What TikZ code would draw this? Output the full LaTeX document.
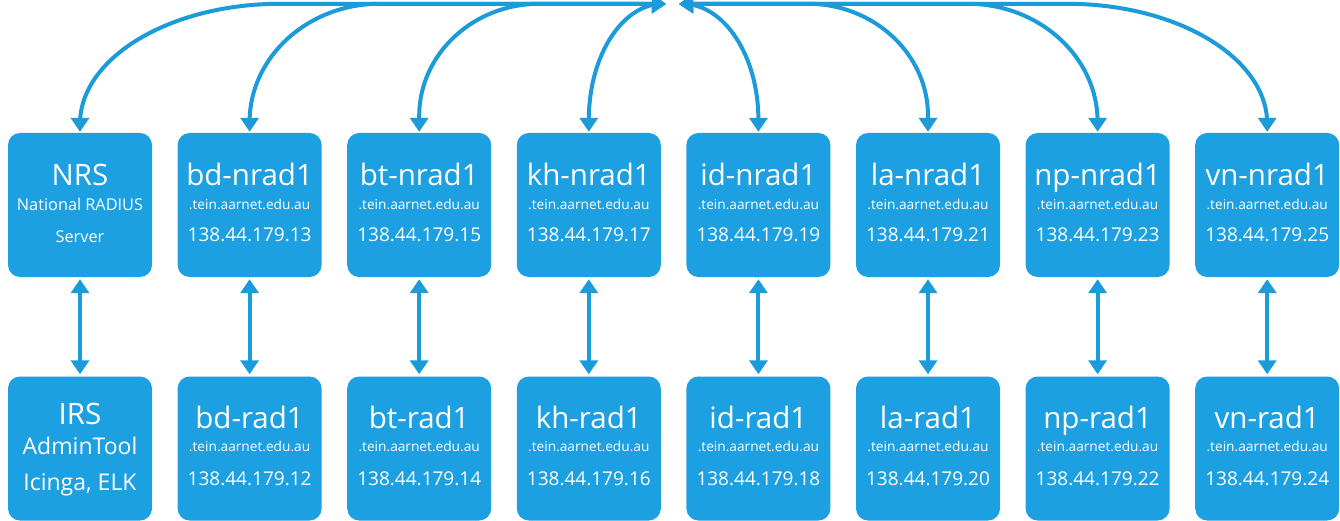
\documentclass[tikz,border=0pt]{standalone}
\usepackage{fontspec}
\setmainfont{Open Sans}
\usetikzlibrary{arrows.meta,calc}
\definecolor{boxblue}{RGB}{29,160,225}
\definecolor{arrblue}{RGB}{27,155,218}
\begin{document}
\begin{tikzpicture}[x=1pt,y=-1pt,
 srv/.style={fill=boxblue, rounded corners=12pt, minimum width=144pt, minimum height=144pt, inner sep=0pt},
 link/.style={draw=arrblue, line width=4pt, {Triangle[width=18pt,length=14pt]}-{Triangle[width=18pt,length=14pt]}},
 ttl/.style={text=white, anchor=base, inner sep=0pt, font=\fontsize{29.5}{32}\selectfont},
 sub/.style={text=white, anchor=base, inner sep=0pt, font=\fontsize{16.3}{18}\selectfont},
 mid/.style={text=white, anchor=base, inner sep=0pt, font=\fontsize{23}{26}\selectfont},
 dom/.style={text=white, anchor=base, inner sep=0pt, font=\fontsize{13.7}{15}\selectfont},
 ip/.style={text=white, anchor=base, inner sep=0pt, font=\fontsize{19}{21}\selectfont}]
\useasboundingbox (0,0) rectangle (1340,521);

% boxes
\foreach \i/\x in {1/80,2/249.6,3/419.2,4/588.8,5/758.4,6/928,7/1097.6,8/1267.2} {
  \node[srv] (t\i) at (\x,205) {};
  \node[srv] (b\i) at (\x,448.5) {};
}

% texts of first column
\node[ttl] (nrs) at (80,185.5) {NRS};
\node[sub] (nrs2) at (80,210.5) {National RADIUS};
\node[sub] (nrs3) at (80,243) {Server};
\node[ttl] (irs) at (80,424) {IRS};
\node[mid] (irs2) at (80,454) {AdminTool};
\node[mid] (irs3) at (80,490.5) {Icinga, ELK};

% texts of other columns
\foreach \i/\x/\n/\u/\l in {2/249.6/bd/13/12,3/419.2/bt/15/14,4/588.8/kh/17/16,5/758.4/id/19/18,6/928/la/21/20,7/1097.6/np/23/22,8/1267.2/vn/25/24} {
  \node[ttl] (tn\i) at (\x,185.5) {\n-nrad1};
  \node[dom] (td\i) at (\x,210) {.tein.aarnet.edu.au};
  \node[ip]  (ti\i) at (\x,241.5) {138.44.179.\u};
  \node[ttl] (bn\i) at (\x,428) {\n-rad1};
  \node[dom] (bd\i) at (\x,451.5) {.tein.aarnet.edu.au};
  \node[ip]  (bi\i) at (\x,485) {138.44.179.\l};
}

% vertical links
\foreach \i in {1,...,8} {
  \draw[link, shorten <=2pt, shorten >=2pt] (t\i.south) -- (b\i.north);
}

% hub curves
\coordinate (hubL) at (666,4);
\coordinate (hubR) at (679,4);
\foreach \i/\a/\b in {1/200/120,2/130/118,3/120/112,4/74/116} {
  \draw[link, shorten >=1pt] (hubL) -- ($(t\i.north)+(\a,-129)$)
     .. controls ($(t\i.north)+({0.45*\a},-129)$) and ($(t\i.north)+(0,{-129+0.45*\b})$)
     .. ($(t\i.north)+(0,{-129+\b})$) -- (t\i.north);
}
\foreach \i/\a/\b in {5/76/116,6/120/112,7/130/118,8/200/120} {
  \draw[link, shorten >=1pt] (hubR) -- ($(t\i.north)+(-\a,-129)$)
     .. controls ($(t\i.north)+({-0.45*\a},-129)$) and ($(t\i.north)+(0,{-129+0.45*\b})$)
     .. ($(t\i.north)+(0,{-129+\b})$) -- (t\i.north);
}
\end{tikzpicture}
\end{document}
